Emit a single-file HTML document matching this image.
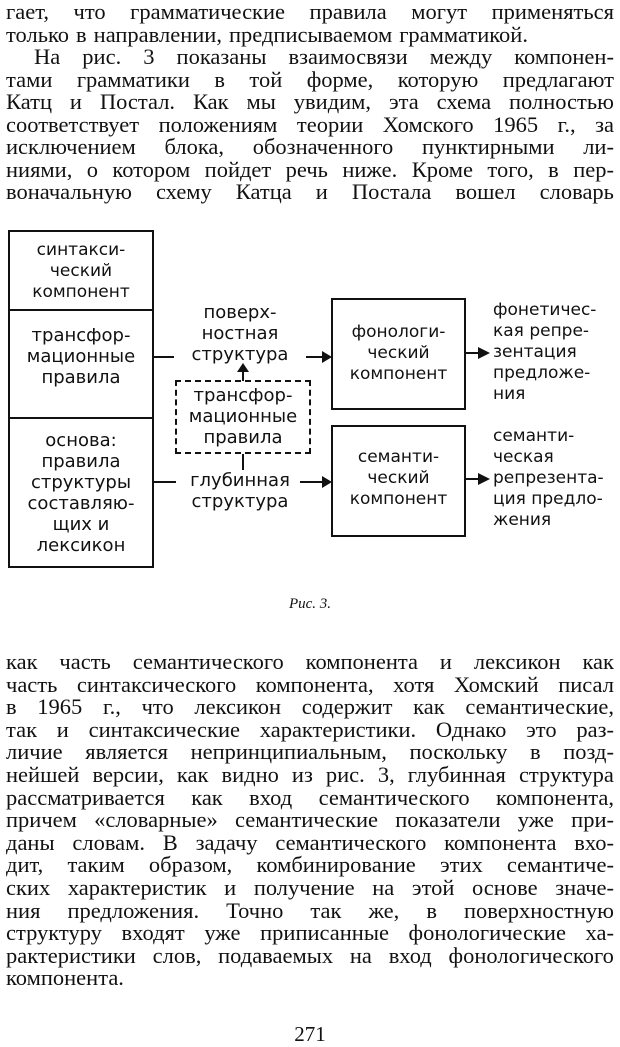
<!DOCTYPE html>
<html><head><meta charset="utf-8"><style>
html,body{margin:0;padding:0;background:#fff;}
body{width:620px;height:1046px;position:relative;overflow:hidden;color:#111;font-family:"Liberation Serif","DejaVu Serif",serif;}
.l{position:absolute;left:6px;width:608px;white-space:nowrap;display:flex;justify-content:space-between;font-size:20px;line-height:22px;}
.l.s{justify-content:flex-start;gap:7px;}
.d{position:absolute;font-family:"DejaVu Sans","Liberation Sans",sans-serif;font-size:17px;line-height:21px;text-align:center;color:#111;}
.b{position:absolute;border:2.5px solid #111;box-sizing:border-box;}
.h{position:absolute;height:2px;background:#111;}
</style></head><body>
<div id="t"></div>
<script>
function lines(arr,y0,step,fs){var t=document.getElementById('t');arr.forEach(function(a,i){var d=document.createElement('div');d.className='l'+(a[1]?' s':'');d.style.top=(y0+i*step-11)+'px';d.style.fontSize=fs+'px';if(a[2])d.style.paddingLeft=a[2]+'px',d.style.width=(608-a[2])+'px';a[0].split(' ').forEach(function(w){var s=document.createElement('span');s.textContent=w;d.appendChild(s);});t.appendChild(d);});}
lines([
["гает, что грамматические правила могут применяться"],
["только в направлении, предписываемом грамматикой.",1],
["На рис. 3 показаны взаимосвязи между компонен-",0,28],
["тами грамматики в той форме, которую предлагают"],
["Катц и Постал. Как мы увидим, эта схема полностью"],
["соответствует положениям теории Хомского 1965 г., за"],
["исключением блока, обозначенного пунктирными ли-"],
["ниями, о котором пойдет речь ниже. Кроме того, в пер-"],
["воначальную схему Катца и Постала вошел словарь"]
],12,22.5,22.5);
lines([
["как часть семантического компонента и лексикон как"],
["часть синтаксического компонента, хотя Хомский писал"],
["в 1965 г., что лексикон содержит как семантические,"],
["так и синтаксические характеристики. Однако это раз-"],
["личие является непринципиальным, поскольку в позд-"],
["нейшей версии, как видно из рис. 3, глубинная структура"],
["рассматривается как вход семантического компонента,"],
["причем «словарные» семантические показатели уже при-"],
["даны словам. В задачу семантического компонента вхо-"],
["дит, таким образом, комбинирование этих семантиче-"],
["ских характеристик и получение на этой основе значе-"],
["ния предложения. Точно так же, в поверхностную"],
["структуру входят уже приписанные фонологические ха-"],
["рактеристики слов, подаваемых на вход фонологического"],
["компонента.",1]
],662,22.6,22.5);
</script>
<div class="b" style="left:8px;top:230px;width:146px;height:338px;"></div>
<div class="h" style="left:8px;top:309px;width:146px;"></div>
<div class="h" style="left:8px;top:417px;width:146px;"></div>
<div class="d" style="left:8px;top:240px;width:146px;">синтакси-<br>ческий<br>компонент</div>
<div class="d" style="left:8px;top:325px;width:146px;font-size:18px;">трансфор-<br>мационные<br>правила</div>
<div class="d" style="left:8px;top:430px;width:146px;font-size:18px;">основа:<br>правила<br>структуры<br>составляю-<br>щих и<br>лексикон</div>
<div class="h" style="left:154px;top:356px;width:20px;"></div>
<div class="d" style="left:170px;top:302px;width:140px;font-size:18px;">поверх-<br>ностная<br>структура</div>
<div class="h" style="left:306px;top:356px;width:20px;"></div>
<div style="position:absolute;left:322px;top:351px;border-left:10px solid #111;border-top:6px solid transparent;border-bottom:6px solid transparent;"></div>
<div style="position:absolute;left:242px;top:368px;width:2px;height:13px;background:#111;"></div>
<div style="position:absolute;left:237px;top:363px;border-bottom:9px solid #111;border-left:6px solid transparent;border-right:6px solid transparent;"></div>
<div style="position:absolute;left:175px;top:380px;width:136px;height:74px;border:2.5px dashed #111;box-sizing:border-box;"></div>
<div class="d" style="left:175px;top:385px;width:136px;font-size:18px;">трансфор-<br>мационные<br>правила</div>
<div style="position:absolute;left:242px;top:454px;width:2px;height:16px;background:#111;"></div>
<div class="h" style="left:154px;top:481px;width:22px;"></div>
<div class="d" style="left:170px;top:470px;width:140px;font-size:18px;">глубинная<br>структура</div>
<div class="h" style="left:300px;top:481px;width:26px;"></div>
<div style="position:absolute;left:322px;top:476px;border-left:10px solid #111;border-top:6px solid transparent;border-bottom:6px solid transparent;"></div>
<div class="b" style="left:331px;top:298px;width:135px;height:112px;"></div>
<div class="d" style="left:331px;top:322px;width:135px;">фонологи-<br>ческий<br>компонент</div>
<div class="b" style="left:331px;top:425px;width:135px;height:112px;"></div>
<div class="d" style="left:331px;top:447px;width:135px;">семанти-<br>ческий<br>компонент</div>
<div class="h" style="left:466px;top:352px;width:16px;"></div>
<div style="position:absolute;left:478px;top:347px;border-left:12px solid #111;border-top:6px solid transparent;border-bottom:6px solid transparent;"></div>
<div class="h" style="left:466px;top:478px;width:16px;"></div>
<div style="position:absolute;left:478px;top:473px;border-left:12px solid #111;border-top:6px solid transparent;border-bottom:6px solid transparent;"></div>
<div class="d" style="left:493px;top:300px;text-align:left;">фонетичес-<br>кая репре-<br>зентация<br>предложе-<br>ния</div>
<div class="d" style="left:493px;top:426px;text-align:left;">семанти-<br>ческая<br>репрезента-<br>ция предло-<br>жения</div>
<div style="position:absolute;left:0;width:620px;top:596px;text-align:center;font-style:italic;font-size:15px;">Рис. 3.</div>
<div style="position:absolute;left:0;width:620px;top:1022px;text-align:center;font-size:21px;">271</div>
</body></html>
